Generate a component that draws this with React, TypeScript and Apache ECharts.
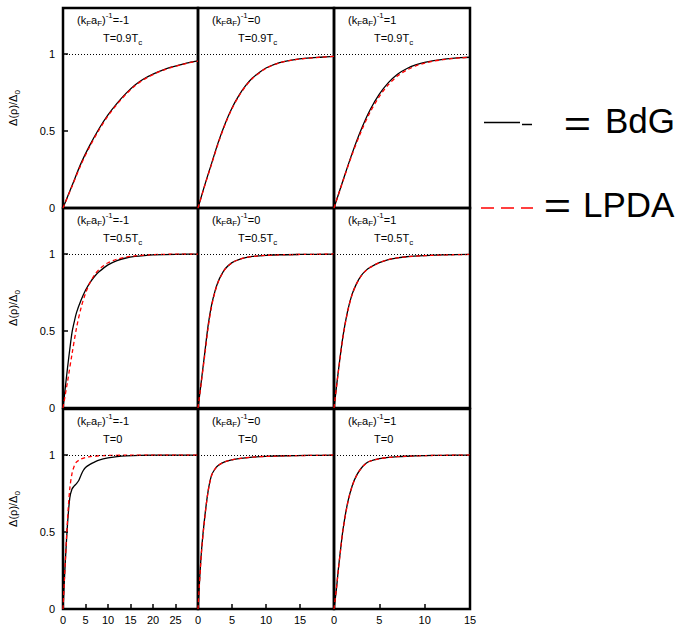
import React, { useEffect, useRef } from 'react';
import * as echarts from 'echarts';

// Gap profile Δ(ρ)/Δ0 against ρ, for three couplings (columns) and three temperatures (rows).
const couplingLabels = ['-1', '0', '1'];
const temperatureLabels = ['0.9T{sub|c}', '0.5T{sub|c}', '0'];
const xMaxByColumn = [30, 20, 15];

// T = 0.9 Tc
const xM1T09 = [0, 2, 4, 6, 8, 10, 12, 14, 16, 18, 20, 22, 24, 26, 28, 30];
const bdgM1T09 = [0, 0.145, 0.29, 0.41, 0.515, 0.605, 0.68, 0.745, 0.8, 0.84, 0.87, 0.895, 0.915, 0.93, 0.945, 0.956];
const lpdaM1T09 = [0, 0.14, 0.282, 0.402, 0.507, 0.598, 0.674, 0.74, 0.795, 0.836, 0.867, 0.893, 0.913, 0.929, 0.944, 0.955];

const xU0T09 = [0, 1, 2, 3, 4, 5, 6, 7, 8, 9, 10, 12, 14, 16, 18, 20];
const bdgU0T09 = [0, 0.15, 0.29, 0.43, 0.55, 0.65, 0.73, 0.795, 0.845, 0.88, 0.91, 0.945, 0.963, 0.974, 0.98, 0.985];
const lpdaU0T09 = [0, 0.146, 0.285, 0.424, 0.545, 0.645, 0.726, 0.791, 0.842, 0.878, 0.908, 0.944, 0.962, 0.973, 0.98, 0.985];

const xP1T09 = [0, 1, 2, 3, 4, 5, 6, 7, 8, 9, 10, 11, 12, 13, 14, 15];
const bdgP1T09 = [0, 0.18, 0.355, 0.51, 0.64, 0.74, 0.815, 0.87, 0.905, 0.93, 0.947, 0.958, 0.966, 0.972, 0.977, 0.98];
const lpdaP1T09 = [0, 0.177, 0.348, 0.498, 0.625, 0.725, 0.802, 0.858, 0.896, 0.923, 0.942, 0.955, 0.964, 0.971, 0.976, 0.98];

// T = 0.5 Tc
const xBdgM1T05 = [0, 0.5, 1, 1.5, 2, 2.5, 3, 4, 5, 6, 7, 8, 10, 12, 14, 16, 18, 20, 25, 30];
const bdgM1T05 = [0, 0.13, 0.26, 0.38, 0.49, 0.56, 0.62, 0.7, 0.765, 0.815, 0.855, 0.885, 0.93, 0.958, 0.975, 0.985, 0.991, 0.995, 0.999, 1];
const xLpdaM1T05 = [0, 1, 2, 3, 4, 5, 6, 7, 8, 9, 10, 12, 14, 16, 18, 20, 25, 30];
const lpdaM1T05 = [0, 0.17, 0.35, 0.52, 0.65, 0.745, 0.815, 0.865, 0.9, 0.925, 0.944, 0.967, 0.981, 0.989, 0.994, 0.997, 1, 1];

const xU0T05 = [0, 0.5, 1, 1.5, 2, 2.5, 3, 3.5, 4, 5, 6, 7, 8, 10, 12, 15, 20];
const bdgU0T05 = [0, 0.18, 0.36, 0.54, 0.67, 0.76, 0.825, 0.87, 0.905, 0.945, 0.965, 0.977, 0.985, 0.992, 0.996, 0.998, 1];
const lpdaU0T05 = [0, 0.17, 0.345, 0.525, 0.66, 0.755, 0.822, 0.868, 0.903, 0.944, 0.965, 0.977, 0.985, 0.992, 0.996, 0.998, 1];

const xP1T05 = [0, 0.5, 1, 1.5, 2, 2.5, 3, 3.5, 4, 5, 6, 7, 8, 10, 12, 15];
const bdgP1T05 = [0, 0.25, 0.47, 0.63, 0.74, 0.81, 0.86, 0.893, 0.915, 0.945, 0.965, 0.976, 0.983, 0.99, 0.995, 0.998];
const lpdaP1T05 = [0, 0.245, 0.465, 0.625, 0.737, 0.808, 0.858, 0.892, 0.914, 0.945, 0.965, 0.976, 0.983, 0.99, 0.995, 0.998];

// T = 0
const xBdgM1T0 = [0, 0.5, 1, 1.5, 2, 2.5, 3, 3.5, 4, 4.5, 5, 6, 7, 8, 10, 12, 14, 17, 20, 25, 30];
const bdgM1T0 = [0, 0.3, 0.55, 0.72, 0.78, 0.8, 0.815, 0.835, 0.87, 0.9, 0.92, 0.94, 0.955, 0.968, 0.982, 0.99, 0.995, 0.999, 1, 1, 1];
const xLpdaM1T0 = [0, 0.5, 1, 1.5, 2, 2.5, 3, 4, 5, 6, 8, 10, 15, 20, 30];
const lpdaM1T0 = [0, 0.3, 0.58, 0.78, 0.88, 0.93, 0.955, 0.975, 0.985, 0.991, 0.996, 0.998, 1, 1, 1];

const xU0T0 = [0, 0.5, 1, 1.5, 2, 2.5, 3, 4, 5, 6, 8, 10, 13, 16, 20];
const bdgU0T0 = [0, 0.37, 0.6, 0.77, 0.87, 0.91, 0.935, 0.958, 0.97, 0.978, 0.987, 0.992, 0.996, 0.998, 1];
const lpdaU0T0 = [0, 0.36, 0.595, 0.768, 0.868, 0.91, 0.934, 0.957, 0.97, 0.978, 0.987, 0.992, 0.996, 0.998, 1];

const xP1T0 = [0, 0.25, 0.5, 0.75, 1, 1.5, 2, 2.5, 3, 3.5, 4, 5, 6, 7, 8, 10, 12, 15];
const bdgP1T0 = [0, 0.12, 0.27, 0.4, 0.52, 0.69, 0.8, 0.87, 0.915, 0.945, 0.962, 0.977, 0.985, 0.99, 0.993, 0.997, 0.999, 1];
const lpdaP1T0 = [0, 0.125, 0.265, 0.395, 0.515, 0.685, 0.797, 0.868, 0.914, 0.944, 0.961, 0.977, 0.985, 0.99, 0.993, 0.997, 0.999, 1];

const yTicks = [0, 0.5, 1];
const xLabelValues = [[0, 5, 10, 15, 20, 25], [0, 5, 10, 15], [0, 5, 10, 15]];
const xTickValues = [[5, 10, 15, 20, 25], [5, 10, 15], [5, 10]];

type Panel = { xb: number[]; bdg: number[]; xl: number[]; lpda: number[] };

const panels: Panel[] = [
  { xb: xM1T09, bdg: bdgM1T09, xl: xM1T09, lpda: lpdaM1T09 },
  { xb: xU0T09, bdg: bdgU0T09, xl: xU0T09, lpda: lpdaU0T09 },
  { xb: xP1T09, bdg: bdgP1T09, xl: xP1T09, lpda: lpdaP1T09 },
  { xb: xBdgM1T05, bdg: bdgM1T05, xl: xLpdaM1T05, lpda: lpdaM1T05 },
  { xb: xU0T05, bdg: bdgU0T05, xl: xU0T05, lpda: lpdaU0T05 },
  { xb: xP1T05, bdg: bdgP1T05, xl: xP1T05, lpda: lpdaP1T05 },
  { xb: xBdgM1T0, bdg: bdgM1T0, xl: xLpdaM1T0, lpda: lpdaM1T0 },
  { xb: xU0T0, bdg: bdgU0T0, xl: xU0T0, lpda: lpdaU0T0 },
  { xb: xP1T0, bdg: bdgP1T0, xl: xP1T0, lpda: lpdaP1T0 },
];

const FONT = '"Liberation Sans", Arial, Helvetica, sans-serif';
const colLeft = [63, 198, 334];
const colWidth = [135, 136, 136];
const rowTop = [8, 208, 409];
const rowHeight = 200;

const zip = (xs: number[], ys: number[]) => xs.map((x, i) => [x, ys[i]]);

const smallRich = {
  sub: { fontSize: 8, lineHeight: 8, verticalAlign: 'bottom', fontFamily: FONT, fill: '#000' },
  sup: { fontSize: 8, lineHeight: 8, verticalAlign: 'top', fontFamily: FONT, fill: '#000' },
};

function buildOption() {
  const grid: any[] = [];
  const xAxis: any[] = [];
  const yAxis: any[] = [];
  const series: any[] = [];
  const graphic: any[] = [];

  for (let r = 0; r < 3; r++) {
    for (let c = 0; c < 3; c++) {
      const i = r * 3 + c;
      const p = panels[i];
      grid.push({
        left: colLeft[c],
        top: rowTop[r],
        width: colWidth[c],
        height: rowHeight,
        show: true,
        borderColor: '#000',
        borderWidth: 2.5,
        backgroundColor: 'transparent',
        containLabel: false,
        outerBoundsMode: 'none',
      });
      const bottomRow = r === 2;
      xAxis.push({
        gridIndex: i,
        type: 'value',
        min: 0,
        max: xMaxByColumn[c],
        interval: 5,
        axisLine: { show: false },
        splitLine: { show: false },
        axisTick: {
          show: bottomRow,
          inside: true,
          length: 5,
          customValues: xTickValues[c],
          lineStyle: { color: '#000', width: 1.5 },
        },
        axisLabel: {
          show: bottomRow,
          customValues: xLabelValues[c],
          color: '#000',
          fontSize: 11,
          fontFamily: FONT,
          margin: 5,
        },
      });
      const leftCol = c === 0;
      yAxis.push({
        gridIndex: i,
        type: 'value',
        min: 0,
        max: 1.3,
        interval: 0.5,
        axisLine: { show: false },
        splitLine: { show: false },
        axisTick: {
          show: leftCol,
          inside: true,
          length: 5,
          customValues: yTicks,
          lineStyle: { color: '#000', width: 1.5 },
        },
        axisLabel: {
          show: leftCol,
          customValues: yTicks,
          color: '#000',
          fontSize: 11,
          fontFamily: FONT,
          margin: 8,
          formatter: (v: number) => String(v),
        },
        name: leftCol ? 'Δ(ρ)/Δ{sub|0}' : '',
        nameLocation: 'middle',
        nameGap: 42,
        nameTextStyle: {
          color: '#000',
          fontSize: 11,
          fontFamily: FONT,
          rich: { sub: { fontSize: 8, verticalAlign: 'bottom', lineHeight: 8, fontFamily: FONT, color: '#000' } },
          lineHeight: 16,
        },
      });
      series.push({
        name: 'BdG',
        type: 'line',
        xAxisIndex: i,
        yAxisIndex: i,
        data: zip(p.xb, p.bdg),
        showSymbol: false,
        smooth: 0.3,
        lineStyle: { color: '#000', width: 1.3 },
        markLine: {
          silent: true,
          symbol: ['none', 'none'],
          label: { show: false },
          lineStyle: { color: '#000', width: 1, type: [1, 2] },
          data: [{ yAxis: 1 }],
        },
        z: 2,
      });
      series.push({
        name: 'LPDA',
        type: 'line',
        xAxisIndex: i,
        yAxisIndex: i,
        data: zip(p.xl, p.lpda),
        showSymbol: false,
        smooth: 0.3,
        lineStyle: { color: '#ff0000', width: 1.3, type: [4, 3] },
        z: 3,
      });
      graphic.push({
        type: 'text',
        x: colLeft[c] + 14,
        y: rowTop[r] + 11.5,
        style: {
          text: `(k{sub|F}a{sub|F}){sup|-1}=${couplingLabels[c]}`,
          rich: smallRich,
          fontSize: 11,
          lineHeight: 16,
          fontFamily: FONT,
          fill: '#000',
          verticalAlign: 'middle',
        },
        z: 10,
      });
      graphic.push({
        type: 'text',
        x: colLeft[c] + 40,
        y: rowTop[r] + 30,
        style: {
          text: `T=${temperatureLabels[r]}`,
          rich: smallRich,
          fontSize: 11,
          lineHeight: 16,
          fontFamily: FONT,
          fill: '#000',
          verticalAlign: 'middle',
        },
        z: 10,
      });
    }
  }

  // Key at the right: line samples followed by "= BdG" and "= LPDA"
  graphic.push(
    { type: 'line', shape: { x1: 484, y1: 122.5, x2: 520, y2: 122.5 }, style: { stroke: '#000', lineWidth: 1.5 } },
    { type: 'line', shape: { x1: 522, y1: 124.5, x2: 532, y2: 124.5 }, style: { stroke: '#000', lineWidth: 1.5 } },
    { type: 'text', x: 577.5, y: 123.5, scaleX: 1.3, style: { text: '=', fontSize: 36, fontFamily: FONT, fill: '#000', align: 'center', verticalAlign: 'middle' } },
    { type: 'text', x: 605, y: 120, style: { text: 'BdG', fontSize: 35, fontFamily: FONT, fill: '#000', align: 'left', verticalAlign: 'middle' } },
    { type: 'line', shape: { x1: 481, y1: 208, x2: 533, y2: 208 }, style: { stroke: '#ff0000', lineWidth: 1.5, lineDash: [13, 7] } },
    { type: 'text', x: 557.5, y: 205, scaleX: 1.3, style: { text: '=', fontSize: 36, fontFamily: FONT, fill: '#000', align: 'center', verticalAlign: 'middle' } },
    { type: 'text', x: 583, y: 204, style: { text: 'LPDA', fontSize: 35, fontFamily: FONT, fill: '#000', align: 'left', verticalAlign: 'middle' } },
  );

  return {
    animation: false,
    backgroundColor: '#fff',
    grid,
    xAxis,
    yAxis,
    series,
    graphic,
  };
}

export default function App() {
  const ref = useRef<HTMLDivElement>(null);
  useEffect(() => {
    if (!ref.current) return;
    const chart = echarts.init(ref.current, null, { renderer: 'svg' });
    chart.setOption(buildOption() as any);
    return () => chart.dispose();
  }, []);
  return (
    <div
      ref={ref}
      style={{ position: 'fixed', left: 0, top: 0, width: 677, height: 628, background: '#fff' }}
    />
  );
}
